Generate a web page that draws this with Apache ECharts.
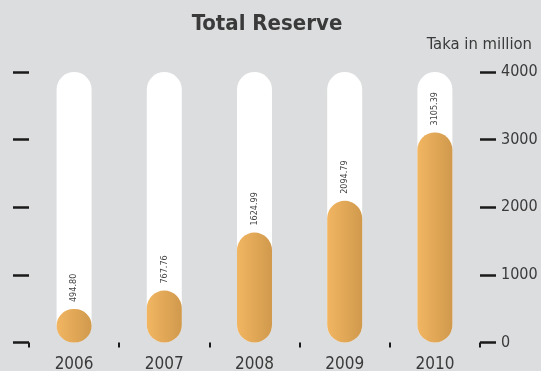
<!DOCTYPE html>
<html>
<head>
<meta charset="utf-8">
<script src="https://cdn.jsdelivr.net/npm/echarts@6/dist/echarts.min.js"></script>
<style>
  html, body { margin: 0; padding: 0; background: #dcdddf; }
  #chart { width: 541px; height: 371px; }
</style>
</head>
<body>
<div id="chart"></div>
<script>
// Total reserve by year (Taka in million)
const years = ['2006', '2007', '2008', '2009', '2010'];
const reserve = [494.80, 767.76, 1624.99, 2094.79, 3105.39];
const axisMax = 4000;
const tickValues = [0, 1000, 2000, 3000, 4000];

const FONT = "'DejaVu Sans Condensed', 'Liberation Sans Narrow', 'Roboto', sans-serif";
const TEXT = '#3a3a3a';

const chart = echarts.init(document.getElementById('chart'));

const track = years.map(() => axisMax);

chart.setOption({
  backgroundColor: '#dcdddf',
  animation: false,
  title: [
    {
      text: 'Total Reserve',
      left: 262,
      top: 8,
      textAlign: 'center',
      textStyle: { fontFamily: FONT, fontSize: 22, fontWeight: 'bold', color: TEXT }
    },
    {
      text: 'Taka in million',
      right: 4,
      top: 31,
      textStyle: { fontFamily: FONT, fontSize: 16.5, fontWeight: 'normal', color: TEXT }
    }
  ],
  grid: { left: 29, right: 61, top: 72, bottom: 28.5, outerBoundsMode: 'none', containLabel: false },
  xAxis: {
    type: 'category',
    data: years,
    axisLine: { show: false },
    axisTick: {
      show: true,
      alignWithLabel: false,
      length: 5,
      lineStyle: { color: '#1a1a1a', width: 2 }
    },
    axisLabel: { fontFamily: FONT, fontSize: 17, color: TEXT, margin: 14 }
  },
  yAxis: [
    {
      type: 'value',
      position: 'left',
      min: 0,
      max: axisMax,
      interval: 1000,
      axisLine: { show: false },
      axisTick: { show: true, inside: false, length: 16, lineStyle: { color: '#1a1a1a', width: 2.5 } },
      axisLabel: { show: false },
      splitLine: { show: false }
    },
    {
      type: 'value',
      position: 'right',
      min: 0,
      max: axisMax,
      interval: 1000,
      axisLine: { show: false },
      axisTick: { show: true, inside: false, length: 16, lineStyle: { color: '#1a1a1a', width: 2.5 } },
      axisLabel: {
        fontFamily: FONT,
        fontSize: 16,
        color: TEXT,
        margin: 21,
        verticalAlign: 'middle',
        padding: [0, 0, 8, 0],
        formatter: v => (tickValues.includes(v) ? String(v) : '')
      },
      splitLine: { show: false }
    }
  ],
  series: [
    {
      name: 'track',
      type: 'bar',
      data: track,
      barWidth: 35,
      barGap: '-100%',
      silent: true,
      itemStyle: { color: '#ffffff', borderRadius: 17.5 },
      z: 1
    },
    {
      name: 'Total Reserve',
      type: 'bar',
      data: reserve,
      barWidth: 35,
      barGap: '-100%',
      itemStyle: {
        borderRadius: 17.5,
        color: new echarts.graphic.LinearGradient(0, 0, 1, 0, [
          { offset: 0, color: '#f2b662' },
          { offset: 1, color: '#d0994c' }
        ])
      },
      label: {
        show: true,
        position: 'top',
        distance: 7,
        rotate: 90,
        align: 'left',
        verticalAlign: 'middle',
        fontFamily: FONT,
        fontSize: 9,
        color: '#444444',
        formatter: p => p.value.toFixed(2)
      },
      z: 2
    }
  ]
});
</script>
</body>
</html>
